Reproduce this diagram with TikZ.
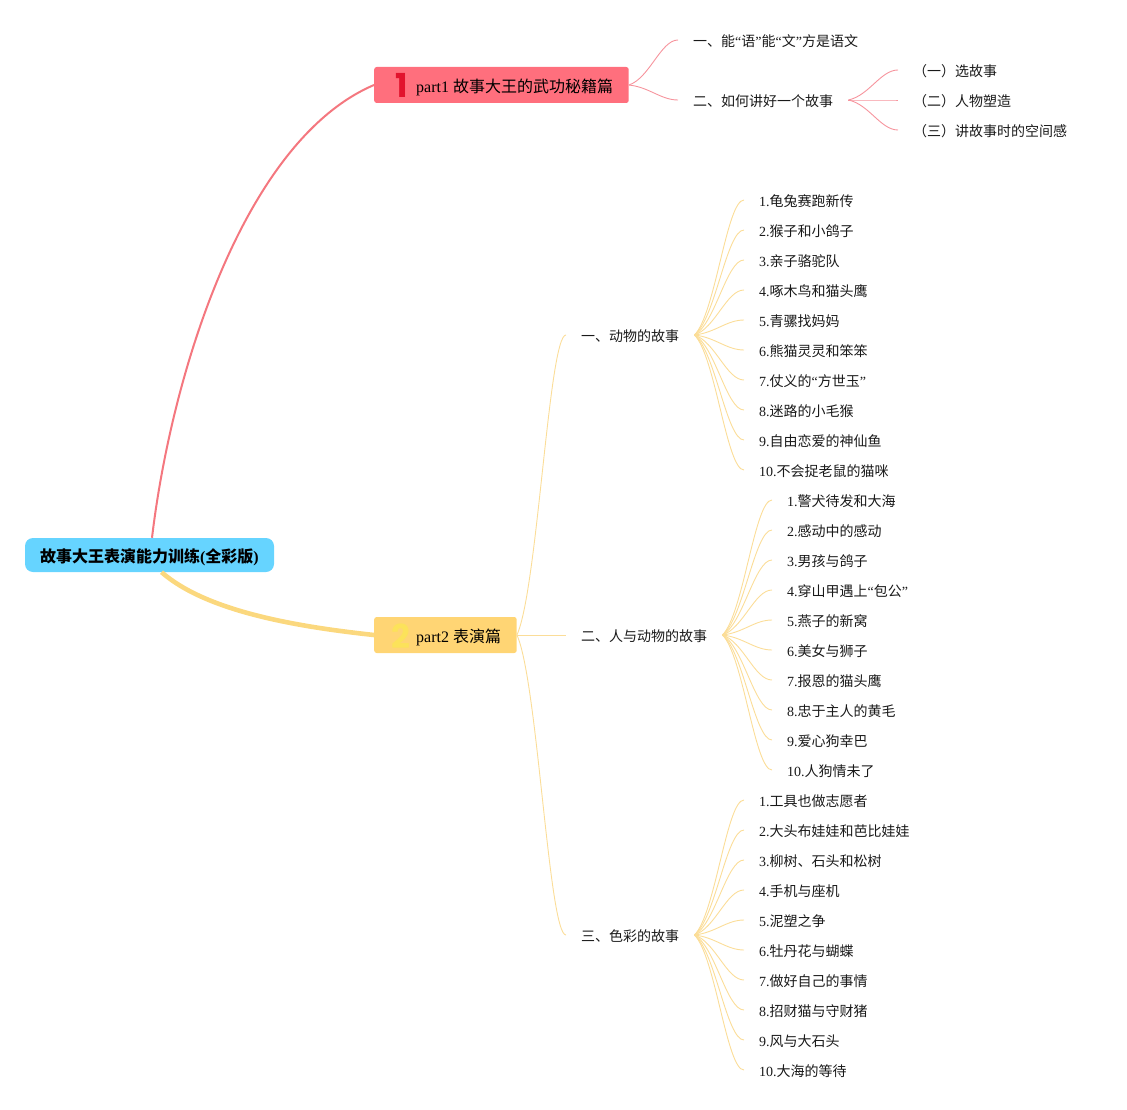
\documentclass[tikz,border=0pt]{standalone}
\usepackage{fontspec}
\setmainfont{Liberation Serif}
\newfontfamily\zhfont{Noto Sans CJK SC}
\newfontfamily\numfont{Poppins}
\newcommand{\zh}[1]{{\zhfont #1}}
\usetikzlibrary{calc}
\definecolor{redline}{HTML}{F4777F}
\definecolor{redbox}{HTML}{FF6F7D}
\definecolor{redthin}{HTML}{F6949D}
\definecolor{yelline}{HTML}{FBD87E}
\definecolor{yelbox}{HTML}{FFD574}
\definecolor{yelthin}{HTML}{FBDD98}
\definecolor{rootblue}{HTML}{66D4FF}
\definecolor{numred}{HTML}{E2132D}
\definecolor{numyel}{HTML}{FCE25A}
\tikzset{
  x=1pt,y=-1pt,
  rootbox/.style={fill=rootblue,rounded corners=8pt,minimum width=249pt,minimum height=34pt,inner sep=0pt,text height=17pt,text depth=3pt,font=\fontsize{16}{16}\selectfont\bfseries,text=black},
  topicbox/.style={rounded corners=2.5pt,minimum height=36pt,inner sep=0pt,anchor=west},
  topictext/.style={anchor=west,inner sep=0pt,font=\fontsize{16}{16}\selectfont},
  numeral/.style={font=\fontsize{33}{33}\selectfont\numfont\bfseries,inner sep=0pt},
  item/.style={anchor=west,inner xsep=15pt,inner ysep=0pt,text height=14pt,text depth=1pt,font=\fontsize{14}{14}\selectfont,text=black!90},
  thinred/.style={draw=redthin,line width=0.9pt},
  thinyel/.style={draw=yelthin,line width=0.9pt},
}
\newcommand{\fancurve}[3]{%
  \draw[#1] let \p1=(#2),\p2=(#3) in (\p1) .. controls ({\x1+0.42*(\x2-\x1)},{\y1+0.15*(\y2-\y1)}) and ({\x1+0.65*(\x2-\x1)},\y2) .. (\p2);}
\begin{document}
\begin{tikzpicture}
\useasboundingbox (0,0) rectangle (1127,1110);
% main nodes
\node[rootbox] (root) at (149.5,555) {\zh{故事大王表演能力训练}(\zh{全彩版})};
\node[topicbox,fill=redbox,minimum width=254.5pt] (p1) at (374,85) {};
\node[topictext] (p1t) at (416,87) {part1 \zh{故事大王的武功秘籍篇}};
\node[numeral,text=numred] (n1) at (401.5,85) {1};
\node[topicbox,fill=yelbox,minimum width=142.5pt] (p2) at (374,635) {};
\node[topictext] (p2t) at (416,637) {part2 \zh{表演篇}};
\node[numeral,text=numyel] (n2) at (401,636) {2};
% main connectors
\draw[redline,line width=2pt] ([xshift=2.5pt]root.north) .. controls (172,370) and (245,140) .. (p1.west);
\draw[yelline,line width=4.6pt] ([xshift=12pt]root.south) .. controls (205,610) and (290,626) .. (p2.west);
% part 1
\node[item] (b1) at (678,40) {\zh{一、能}“\zh{语}”\zh{能}“\zh{文}”\zh{方是语文}};
\node[item] (b2) at (678,100) {\zh{二、如何讲好一个故事}};
\fancurve{thinred}{p1.east}{b1.west}
\fancurve{thinred}{p1.east}{b2.west}
\node[item] (c1) at (898,70) {\zh{（一）选故事}};
\node[item] (c2) at (898,100) {\zh{（二）人物塑造}};
\node[item] (c3) at (898,130) {\zh{（三）讲故事时的空间感}};
\foreach \k in {1,2,3} {\fancurve{thinred}{b2.east}{c\k.west}}
% part 2
\node[item] (s1) at (566,335) {\zh{一、动物的故事}};
\node[item] (s2) at (566,635) {\zh{二、人与动物的故事}};
\node[item] (s3) at (566,935) {\zh{三、色彩的故事}};
\fancurve{thinyel}{p2.east}{s1.west}
\draw[thinyel] (p2.east) -- (s2.west);
\fancurve{thinyel}{p2.east}{s3.west}
\foreach \t [count=\idx] in {1.\zh{龟兔赛跑新传},2.\zh{猴子和小鸽子},3.\zh{亲子骆驼队},4.\zh{啄木鸟和猫头鹰},5.\zh{青骡找妈妈},6.\zh{熊猫灵灵和笨笨},7.\zh{仗义的}“\zh{方世玉}”,8.\zh{迷路的小毛猴},9.\zh{自由恋爱的神仙鱼},10.\zh{不会捉老鼠的猫咪}} {
  \node[item] (a\idx) at (744,{200+30*(\idx-1)}) {\t};
  \fancurve{thinyel}{s1.east}{a\idx.west}
}
\foreach \t [count=\idx] in {1.\zh{警犬待发和大海},2.\zh{感动中的感动},3.\zh{男孩与鸽子},4.\zh{穿山甲遇上}“\zh{包公}”,5.\zh{燕子的新窝},6.\zh{美女与狮子},7.\zh{报恩的猫头鹰},8.\zh{忠于主人的黄毛},9.\zh{爱心狗幸巴},10.\zh{人狗情未了}} {
  \node[item] (d\idx) at (772,{500+30*(\idx-1)}) {\t};
  \fancurve{thinyel}{s2.east}{d\idx.west}
}
\foreach \t [count=\idx] in {1.\zh{工具也做志愿者},2.\zh{大头布娃娃和芭比娃娃},3.\zh{柳树、石头和松树},4.\zh{手机与座机},5.\zh{泥塑之争},6.\zh{牡丹花与蝴蝶},7.\zh{做好自己的事情},8.\zh{招财猫与守财猪},9.\zh{风与大石头},10.\zh{大海的等待}} {
  \node[item] (e\idx) at (744,{800+30*(\idx-1)}) {\t};
  \fancurve{thinyel}{s3.east}{e\idx.west}
}
\end{tikzpicture}
\end{document}
